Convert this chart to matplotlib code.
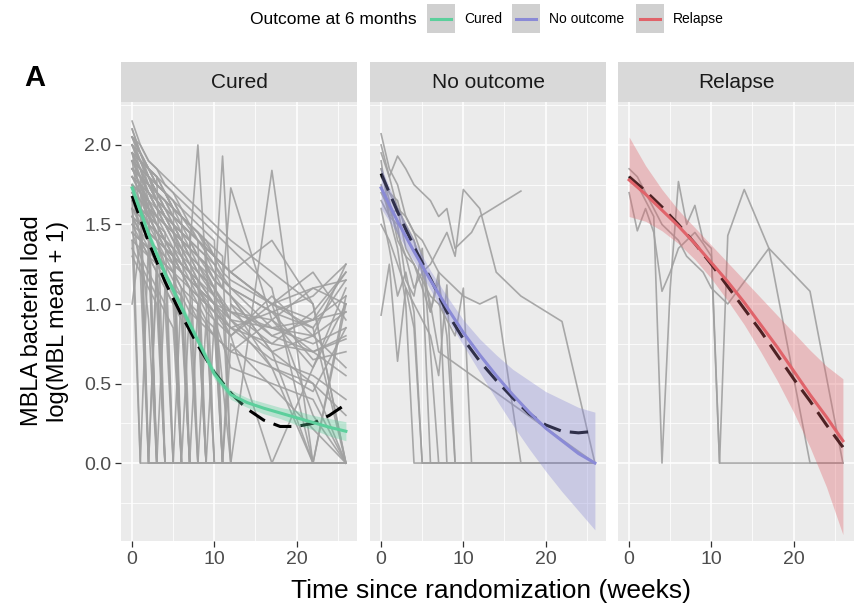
import numpy as np
import matplotlib
matplotlib.use('Agg')
import matplotlib.pyplot as plt
from matplotlib.patches import Rectangle
from matplotlib.lines import Line2D

plt.rcParams['font.family'] = ['Liberation Sans', 'DejaVu Sans']

outcomes = ['Cured', 'No outcome', 'Relapse']
line_colors = ['#5CCF9C', '#8A8AD6', '#E0636A']

# Individual patient trajectories (weeks, log load).
cured_weeks = [
    [0, 1, 2, 3, 4, 5, 6, 7, 8, 10, 12, 17, 22, 26],
    [0, 1, 2, 3, 4, 5, 6, 8, 10, 12, 17, 22, 26],
    [0, 1, 2, 3, 26],
    [0, 1, 2, 3, 4, 26],
    [0, 1, 2, 3, 4, 5, 6, 7, 26],
    [0, 1, 2, 3, 4, 5, 6, 7, 8, 9, 10, 26],
    [0, 1, 2, 3, 4, 26],
    [0, 1, 2, 3, 4, 5, 6, 7, 8, 9, 26],
    [0, 1, 2, 3, 4, 5, 6, 7, 8, 10, 12, 17, 22, 26],
    [0, 1, 2, 26],
    [0, 1, 2, 3, 4, 5, 6, 7, 8, 9, 10, 11, 12, 17, 22, 26],
    [0, 1, 2, 3, 4, 5, 6, 26],
    [0, 1, 2, 3, 4, 5, 6, 7, 8, 9, 10, 11, 12, 17, 22, 26],
    [0, 1, 2, 3, 4, 5, 26],
    [0, 1, 2, 3, 4, 5, 6, 7, 8, 10, 12, 17, 22, 26],
    [0, 1, 26],
    [0, 1, 2, 3, 4, 5, 6, 7, 8, 10, 12, 17, 22, 26],
    [0, 1, 2, 3, 4, 5, 6, 7, 8, 9, 10, 11, 26],
    [0, 1, 2, 3, 4, 26],
    [0, 1, 2, 3, 4, 5, 6, 7, 8, 10, 12, 17, 22, 26],
    [0, 1, 2, 3, 26],
    [0, 1, 2, 3, 4, 5, 6, 7, 8, 9, 26],
    [0, 1, 2, 3, 4, 5, 6, 7, 8, 10, 12, 17, 22, 26],
    [0, 1, 2, 3, 4, 5, 6, 7, 26],
    [0, 1, 2, 3, 4, 5, 6, 7, 8, 10, 12, 17, 22, 26],
    [0, 1, 2, 3, 4, 5, 6, 7, 8, 10, 12, 17, 22, 26],
    [0, 1, 2, 3, 4, 5, 6, 7, 26],
    [0, 1, 2, 3, 4, 5, 6, 7, 8, 10, 12, 17, 22, 26],
    [0, 1, 2, 3, 26],
    [0, 1, 2, 3, 4, 5, 6, 7, 8, 10, 12, 17, 22, 26],
    [0, 1, 2, 3, 4, 5, 6, 7, 8, 9, 10, 11, 12, 17, 22, 26],
    [0, 1, 2, 3, 4, 5, 6, 7, 8, 9, 10, 26],
    [0, 1, 2, 3, 4, 5, 6, 7, 8, 9, 10, 11, 12, 26],
    [0, 1, 2, 3, 4, 5, 6, 7, 8, 9, 10, 11, 12, 17, 22, 26],
    [0, 1, 2, 3, 4, 5, 6, 26],
    [0, 1, 2, 3, 4, 5, 6, 7, 8, 9, 10, 11, 12, 17, 22, 26],
    [0, 1, 2, 3, 4, 5, 6, 7, 8, 10, 12, 17, 22, 26],
    [0, 1, 2, 3, 4, 5, 6, 7, 8, 10, 12, 17, 22, 26],
    [0, 1, 2, 3, 4, 5, 6, 7, 8, 9, 10, 11, 12, 17, 22, 26],
    [0, 1, 2, 3, 4, 26],
    [0, 1, 2, 3, 4, 5, 6, 7, 8, 26],
    [0, 1, 2, 3, 4, 5, 6, 7, 8, 9, 10, 11, 12, 17, 22, 26],
    [0, 1, 2, 3, 4, 5, 6, 7, 8, 9, 10, 11, 12, 17, 22, 26],
    [0, 1, 2, 3, 4, 5, 6, 7, 8, 10, 12, 17, 22, 26],
    [0, 1, 2, 3, 4, 5, 6, 7, 8, 9, 10, 11, 12, 26],
    [0, 1, 2, 3, 4, 5, 6, 7, 8, 9, 10, 26],
    [0, 1, 2, 3, 4, 5, 6, 7, 8, 9, 10, 11, 12, 26],
    [0, 1, 2, 3, 4, 5, 26],
    [0, 1, 2, 3, 4, 5, 6, 26],
    [0, 1, 2, 3, 4, 5, 6, 7, 26],
    [0, 1, 2, 3, 4, 5, 6, 7, 8, 26],
    [0, 1, 2, 3, 4, 5, 6, 7, 8, 9, 26],
    [0, 1, 2, 3, 4, 5, 6, 7, 8, 9, 10, 11, 26],
    [0, 1, 2, 3, 26],
    [0, 1, 2, 26],
    [0, 1, 2, 3, 4, 5, 6, 7, 8, 9, 10, 11, 12, 17, 22, 26],
    [0, 1, 2, 3, 4, 5, 6, 7, 8, 9, 10, 11, 12, 17, 22, 26],
    [0, 1, 2, 3, 4, 5, 6, 7, 8, 10, 12, 17, 22, 26],
    [0, 1, 2, 3, 4, 5, 6, 7, 8, 9, 10, 11, 12, 17, 22, 26],
    [0, 1, 2, 3, 4, 5, 6, 7, 26],
    [0, 1, 2, 3, 4, 5, 6, 7, 8, 9, 26],
    [0, 1, 2, 3, 4, 5, 6, 7, 8, 9, 10, 11, 12, 17, 22, 26],
    [0, 1, 2, 3, 4, 5, 6, 7, 8, 10, 12, 17, 22, 26],
    [0, 1, 2, 3, 4, 5, 6, 7, 8, 9, 10, 11, 12, 17, 22, 26],
    [0, 1, 2, 3, 4, 5, 6, 26],
    [0, 1, 2, 3, 4, 5, 6, 7, 8, 9, 10, 11, 26],
    [0, 1, 2, 3, 4, 5, 6, 7, 8, 10, 12, 17, 22, 26],
    [0, 1, 2, 3, 4, 5, 6, 7, 8, 9, 10, 11, 12, 17, 22, 26],
    [0, 1, 2, 3, 4, 26],
    [0, 1, 2, 3, 4, 5, 6, 7, 8, 9, 10, 11, 12, 17, 22, 26],
]
cured_loads = [
    [2.15, 2.00, 1.90, 1.85, 1.75, 1.70, 1.60, 1.50, 1.45, 1.30, 1.20, 1.00, 0.90, 0.95],
    [2.05, 1.95, 1.85, 1.80, 1.70, 1.60, 1.55, 1.40, 1.25, 1.10, 0.95, 1.05, 1.25],
    [1.95, 1.70, 1.50, 0.00, 0.00],
    [1.90, 1.60, 0.00, 1.30, 0.00, 0.00],
    [1.85, 1.80, 1.60, 1.40, 1.20, 0.00, 1.10, 0.00, 0.00],
    [1.80, 1.70, 1.65, 1.50, 1.40, 1.30, 1.20, 1.10, 0.00, 0.90, 0.00, 0.00],
    [1.75, 1.40, 1.30, 1.20, 0.00, 0.00],
    [1.70, 1.75, 1.55, 1.45, 1.35, 1.25, 0.00, 1.00, 0.90, 0.00, 0.00],
    [1.65, 1.50, 1.40, 1.35, 1.30, 1.20, 1.10, 1.00, 0.95, 0.80, 0.70, 0.60, 0.50, 0.30],
    [1.60, 1.20, 0.00, 0.00],
    [2.00, 1.85, 1.75, 1.65, 1.55, 1.45, 1.40, 1.35, 2.00, 1.20, 1.10, 1.00, 0.90, 0.70, 0.50, 0.00],
    [1.55, 1.45, 1.35, 0.00, 1.10, 1.00, 0.00, 0.00],
    [1.95, 1.80, 1.70, 1.60, 1.50, 1.45, 1.30, 1.25, 1.20, 1.15, 1.05, 1.93, 1.00, 0.80, 0.90, 1.20],
    [1.45, 1.30, 1.20, 1.10, 1.00, 0.00, 0.00],
    [1.85, 1.75, 1.60, 1.50, 1.45, 1.35, 1.25, 1.20, 1.10, 1.00, 0.00, 1.84, 0.00, 0.00],
    [1.40, 0.00, 0.00],
    [2.05, 1.90, 1.80, 1.70, 1.60, 1.50, 1.40, 1.30, 1.25, 1.10, 0.95, 0.85, 0.80, 1.25],
    [1.75, 1.65, 1.55, 1.45, 1.35, 1.30, 1.20, 1.10, 1.00, 0.00, 0.90, 0.00, 0.00],
    [1.30, 1.20, 1.10, 1.00, 0.00, 0.00],
    [1.90, 1.85, 1.70, 1.60, 1.50, 1.40, 1.35, 1.25, 1.15, 1.00, 0.90, 0.60, 0.00, 0.00],
    [1.00, 1.40, 0.90, 0.00, 0.00],
    [1.80, 1.70, 1.55, 1.50, 1.40, 1.30, 0.00, 0.00, 1.00, 0.00, 0.00],
    [2.00, 1.90, 1.75, 1.65, 1.55, 1.50, 1.40, 1.30, 1.20, 1.05, 0.90, 0.85, 0.75, 0.85],
    [1.60, 1.55, 1.40, 1.30, 1.20, 1.10, 1.00, 0.00, 0.00],
    [1.70, 1.60, 1.50, 1.40, 1.25, 1.15, 1.05, 0.95, 0.90, 0.80, 0.70, 0.90, 0.70, 0.80],
    [1.95, 1.85, 1.65, 1.55, 1.50, 1.40, 1.30, 1.20, 1.10, 1.00, 0.80, 0.00, 0.60, 1.00],
    [1.50, 1.40, 1.30, 1.20, 1.10, 1.00, 0.90, 0.00, 0.00],
    [1.85, 1.80, 1.70, 1.60, 1.50, 1.40, 1.30, 1.20, 1.10, 0.90, 0.60, 0.50, 0.40, 0.00],
    [1.65, 0.00, 1.40, 0.00, 0.00],
    [2.00, 1.90, 1.80, 1.65, 1.55, 1.45, 1.35, 1.25, 1.15, 1.00, 0.85, 0.75, 0.70, 0.55],
    [1.90, 1.80, 1.75, 1.65, 1.60, 1.50, 1.45, 1.40, 1.30, 1.25, 1.15, 1.10, 1.73, 0.90, 0.60, 1.10],
    [1.70, 1.60, 1.55, 1.45, 1.40, 1.30, 1.25, 1.15, 1.10, 1.00, 0.00, 0.00],
    [1.80, 1.75, 1.65, 1.55, 1.50, 1.45, 1.35, 1.30, 1.20, 1.15, 1.05, 1.00, 0.00, 0.00],
    [2.10, 1.95, 1.85, 1.75, 1.70, 1.60, 1.55, 1.50, 1.45, 1.40, 1.30, 1.25, 1.20, 1.00, 1.10, 1.15],
    [1.35, 1.25, 1.15, 1.05, 0.95, 0.85, 0.00, 0.00],
    [1.60, 1.50, 1.45, 1.40, 1.35, 1.25, 1.20, 1.10, 1.05, 0.95, 0.90, 0.85, 0.80, 1.05, 0.80, 0.95],
    [1.75, 1.70, 1.60, 1.50, 1.40, 1.35, 1.25, 1.20, 1.10, 0.95, 0.80, 1.00, 0.30, 0.00],
    [1.95, 1.85, 1.75, 1.65, 1.55, 1.50, 1.45, 1.35, 1.30, 1.15, 1.05, 0.70, 0.00, 1.00],
    [1.85, 1.75, 1.70, 1.60, 1.55, 1.45, 1.40, 1.35, 1.25, 1.20, 1.10, 0.00, 1.00, 0.60, 0.45, 0.85],
    [1.55, 1.45, 0.00, 1.20, 0.00, 0.00],
    [1.45, 1.40, 1.35, 1.25, 1.15, 1.05, 0.95, 0.85, 0.00, 0.00],
    [1.90, 1.80, 1.70, 1.65, 1.55, 1.50, 1.40, 1.30, 1.25, 1.15, 1.10, 1.00, 0.95, 0.75, 0.95, 1.20],
    [2.05, 1.95, 1.80, 1.70, 1.65, 1.55, 1.50, 1.40, 1.35, 1.30, 1.20, 1.10, 1.05, 0.80, 0.70, 0.78],
    [1.65, 1.60, 1.50, 1.45, 1.35, 1.30, 1.20, 1.15, 1.05, 0.95, 0.85, 0.65, 0.55, 0.40],
    [1.50, 1.45, 1.40, 1.30, 1.25, 1.20, 1.10, 1.05, 1.00, 0.90, 0.85, 0.00, 0.75, 0.00],
    [1.90, 1.85, 1.80, 1.70, 1.60, 1.55, 1.50, 1.45, 1.40, 1.35, 0.00, 0.00],
    [2.00, 1.95, 1.85, 1.80, 1.70, 1.65, 1.55, 1.50, 1.45, 1.40, 1.35, 1.30, 0.00, 0.00],
    [1.75, 1.70, 1.60, 1.55, 1.45, 0.00, 0.00],
    [1.95, 1.90, 1.80, 1.70, 1.65, 1.60, 0.00, 0.00],
    [2.10, 1.95, 1.85, 1.75, 1.70, 1.65, 1.55, 0.00, 0.00],
    [1.85, 1.80, 1.75, 1.70, 1.60, 1.55, 1.50, 1.45, 0.00, 0.00],
    [2.00, 1.90, 1.80, 1.75, 1.70, 1.60, 1.55, 1.50, 1.40, 0.00, 0.00],
    [1.95, 1.90, 1.85, 1.75, 1.70, 1.65, 1.60, 1.55, 1.50, 1.45, 1.40, 0.00, 0.00],
    [1.80, 1.75, 1.65, 0.00, 0.00],
    [1.90, 1.80, 0.00, 0.00],
    [1.70, 1.65, 1.60, 1.55, 1.50, 1.45, 1.40, 1.35, 1.30, 1.25, 1.20, 1.15, 1.10, 0.85, 0.90, 1.05],
    [1.80, 1.75, 1.70, 1.65, 1.60, 1.55, 1.45, 1.40, 1.35, 1.30, 1.25, 1.15, 1.10, 0.95, 0.85, 0.00],
    [1.55, 1.50, 1.45, 1.40, 1.30, 1.25, 1.20, 1.15, 1.10, 1.00, 0.95, 0.90, 1.10, 1.00],
    [2.00, 1.90, 1.85, 1.80, 1.75, 1.70, 1.65, 1.60, 1.55, 1.50, 1.45, 1.40, 1.35, 1.10, 0.00, 1.05],
    [1.40, 1.35, 1.30, 1.25, 1.20, 1.10, 1.05, 0.00, 0.00],
    [1.60, 1.55, 1.50, 1.45, 1.40, 1.35, 1.30, 1.20, 1.15, 0.00, 0.00],
    [1.85, 1.80, 1.75, 1.70, 1.65, 1.60, 1.50, 1.45, 1.40, 1.35, 1.30, 1.20, 1.15, 1.00, 1.20, 0.90],
    [2.05, 2.00, 1.90, 1.85, 1.80, 1.75, 1.70, 1.65, 1.60, 1.50, 1.40, 1.20, 1.00, 0.00],
    [1.75, 1.70, 1.65, 1.60, 1.55, 1.50, 1.45, 1.40, 1.30, 1.25, 1.15, 1.10, 1.05, 0.70, 0.80, 0.60],
    [1.65, 1.60, 1.55, 1.50, 1.40, 1.35, 0.00, 0.00],
    [1.55, 1.50, 1.45, 1.40, 1.35, 1.30, 1.25, 1.20, 1.15, 1.10, 1.05, 0.00, 0.00],
    [1.90, 1.85, 1.80, 1.70, 1.65, 1.55, 1.50, 1.45, 1.40, 1.30, 1.20, 1.00, 0.85, 1.15],
    [1.45, 1.40, 1.35, 1.30, 1.25, 1.20, 1.15, 1.10, 1.05, 1.00, 0.95, 0.90, 0.85, 0.95, 0.65, 0.70],
    [2.05, 1.95, 1.85, 1.80, 0.00, 0.00],
    [1.95, 1.90, 1.80, 1.75, 1.70, 1.60, 1.55, 1.50, 1.45, 1.35, 1.30, 1.25, 1.20, 1.40, 1.00, 0.00],
]

noout_weeks = [
    [0, 1, 2, 3, 4, 5, 6, 7, 8, 26],
    [0, 1, 2, 3, 4, 5, 6, 7, 8, 9, 10, 11, 12, 17],
    [0, 1, 2, 3, 4, 5, 6, 7, 8, 9, 10, 12, 14, 17, 22, 26],
    [0, 1, 2, 3, 4, 5, 26],
    [0, 1, 2, 3, 4, 5, 6, 7, 8, 9, 26],
    [0, 1, 2, 3, 4, 5, 6, 7, 26],
    [0, 1, 2, 3, 4, 26],
    [0, 1, 2, 3, 4, 5, 6, 7, 8, 9, 10, 12, 14, 17, 26],
    [0, 1, 2, 3, 4, 5, 6, 7, 8, 9, 26],
    [0, 1, 2, 3, 4, 5, 26],
    [0, 1, 2, 3, 4, 5, 6, 7, 26],
    [0, 1, 2, 3, 4, 5, 6, 7, 8, 9, 10, 11, 26],
    [0, 1, 2, 3, 4, 5, 6, 26],
]
noout_loads = [
    [2.07, 1.85, 1.75, 1.55, 1.45, 1.30, 0.95, 1.20, 0.00, 0.00],
    [1.95, 1.80, 1.93, 1.85, 1.75, 1.70, 1.65, 1.55, 1.60, 1.35, 1.40, 1.45, 1.55, 1.71],
    [1.80, 1.70, 1.65, 1.45, 1.40, 1.20, 1.25, 1.35, 1.45, 1.30, 1.72, 1.60, 1.20, 1.05, 0.89, 0.00],
    [1.60, 1.35, 1.05, 1.20, 0.95, 0.00, 0.00],
    [0.93, 1.25, 0.64, 1.10, 1.00, 0.90, 0.80, 0.55, 1.12, 0.00, 0.00],
    [1.75, 1.55, 1.50, 1.15, 1.05, 1.35, 0.70, 0.00, 0.00],
    [1.90, 1.55, 1.35, 1.00, 0.00, 0.00],
    [1.85, 1.70, 1.60, 1.55, 1.45, 1.40, 1.30, 1.20, 1.15, 1.10, 1.05, 1.00, 1.05, 0.00, 0.00],
    [1.70, 1.60, 1.45, 1.30, 1.25, 1.10, 0.95, 1.15, 0.80, 0.00, 0.00],
    [1.50, 1.40, 1.25, 1.10, 0.85, 0.00, 0.00],
    [2.00, 1.80, 1.60, 1.50, 1.40, 1.20, 1.00, 0.70, 0.00],
    [1.65, 1.55, 1.60, 1.35, 1.25, 1.15, 1.05, 1.00, 0.90, 0.80, 1.10, 0.00, 0.00],
    [1.85, 1.65, 1.40, 1.30, 1.10, 1.20, 0.00, 0.00],
]

relapse_weeks = [
    [0, 1, 2, 3, 4, 5, 6, 7, 8, 9, 10, 11, 12, 17, 22, 26],
    [0, 1, 2, 3, 4, 5, 6, 7, 8, 9, 10, 11, 12, 14, 17, 22, 26],
    [0, 1, 2, 3, 4, 5, 6, 7, 8, 9, 10, 11, 12, 17, 22, 26],
]
relapse_loads = [
    [1.80, 1.75, 1.65, 1.55, 0.00, 1.10, 1.77, 1.50, 1.62, 1.40, 1.35, 0.00, 0.00, 0.00, 0.00, 0.00],
    [1.70, 1.46, 1.60, 1.45, 1.08, 1.20, 1.35, 1.40, 1.45, 1.38, 1.30, 0.00, 1.43, 1.72, 1.35, 1.08, 0.00],
    [1.85, 1.80, 1.70, 1.60, 1.50, 1.45, 1.40, 1.30, 1.25, 1.20, 1.10, 1.05, 1.00, 1.35, 0.00, 0.00],
]

# Group fits (solid + ribbon) and overall trend (dashed)
fit_weeks = [0, 2, 4, 6, 8, 10, 12, 14, 16, 18, 20, 22, 24, 26]

cured_fit = [1.73, 1.44, 1.19, 0.98, 0.77, 0.56, 0.43, 0.38, 0.345, 0.315, 0.285, 0.255, 0.225, 0.20]
cured_lo = [1.69, 1.41, 1.16, 0.95, 0.74, 0.53, 0.40, 0.35, 0.31, 0.28, 0.24, 0.21, 0.17, 0.14]
cured_hi = [1.77, 1.47, 1.22, 1.01, 0.80, 0.59, 0.46, 0.41, 0.38, 0.35, 0.33, 0.30, 0.28, 0.26]
cured_trend = [1.68, 1.39, 1.14, 0.93, 0.74, 0.57, 0.44, 0.34, 0.27, 0.23, 0.23, 0.25, 0.30, 0.37]

noout_fit = [1.73, 1.52, 1.33, 1.15, 0.98, 0.82, 0.68, 0.55, 0.43, 0.32, 0.22, 0.14, 0.06, 0.00]
noout_lo = [1.60, 1.44, 1.27, 1.09, 0.91, 0.74, 0.57, 0.40, 0.24, 0.09, -0.05, -0.18, -0.30, -0.42]
noout_hi = [1.86, 1.61, 1.40, 1.21, 1.05, 0.90, 0.78, 0.68, 0.59, 0.52, 0.45, 0.40, 0.35, 0.32]
noout_trend = [1.82, 1.58, 1.36, 1.16, 0.95, 0.78, 0.64, 0.52, 0.41, 0.31, 0.24, 0.20, 0.19, 0.20]

relapse_fit = [1.78, 1.69, 1.59, 1.49, 1.38, 1.26, 1.14, 1.01, 0.87, 0.73, 0.58, 0.43, 0.29, 0.14]
relapse_lo = [1.55, 1.52, 1.46, 1.38, 1.28, 1.16, 1.02, 0.87, 0.70, 0.52, 0.32, 0.10, -0.15, -0.45]
relapse_hi = [2.05, 1.87, 1.72, 1.59, 1.48, 1.37, 1.26, 1.15, 1.04, 0.93, 0.82, 0.71, 0.61, 0.53]
relapse_trend = [1.80, 1.71, 1.61, 1.50, 1.38, 1.25, 1.11, 0.97, 0.83, 0.68, 0.53, 0.39, 0.24, 0.10]

panels = [
    (cured_weeks, cured_loads, cured_fit, cured_lo, cured_hi, cured_trend),
    (noout_weeks, noout_loads, noout_fit, noout_lo, noout_hi, noout_trend),
    (relapse_weeks, relapse_loads, relapse_fit, relapse_lo, relapse_hi, relapse_trend),
]

W, H = 858, 605
fig = plt.figure(figsize=(W / 100, H / 100), dpi=100)


def fx(px):
    return px / W


def fy(py):
    return 1 - py / H


panel_left = [121, 370, 618]
panel_w = 236
panel_top, panel_bot = 102, 541
strip_top = 62

for i, (weeks, loads, fit, lo, hi, trend) in enumerate(panels):
    ax = fig.add_axes([fx(panel_left[i]), fy(panel_bot), panel_w / W, (panel_bot - panel_top) / H])
    ax.set_facecolor('#EBEBEB')
    for s in ax.spines.values():
        s.set_visible(False)
    ax.set_xlim(-1.35, 27.35)
    ax.set_ylim(-0.49, 2.27)
    ax.set_xticks([0, 10, 20])
    ax.set_xticks([5, 15, 25], minor=True)
    ax.set_yticks([0, 0.5, 1.0, 1.5, 2.0])
    ax.set_yticks([-0.25, 0.25, 0.75, 1.25, 1.75, 2.25], minor=True)
    ax.grid(which='major', color='white', lw=1.1)
    ax.grid(which='minor', color='white', lw=0.55)
    ax.set_axisbelow(True)
    ax.tick_params(which='major', length=4, width=0.9, color='#333333',
                   labelsize=14, labelcolor='#4D4D4D', pad=3)
    ax.tick_params(which='minor', length=0)
    if i == 0:
        ax.set_yticklabels(['0.0', '0.5', '1.0', '1.5', '2.0'])
    else:
        ax.tick_params(axis='y', which='major', length=0, labelleft=False)

    for w, v in zip(weeks, loads):
        ax.plot(w, v, color='#A0A0A0', lw=1.2, alpha=0.9, zorder=2)

    ax.plot(fit_weeks, trend, color='black', lw=2.2, dashes=(6, 3), zorder=3)
    ax.fill_between(fit_weeks, lo, hi, color=line_colors[i], alpha=0.35, lw=0, zorder=4)
    ax.plot(fit_weeks, fit, color=line_colors[i], lw=2.2, zorder=5)

    sax = fig.add_axes([fx(panel_left[i]), fy(panel_top), panel_w / W, (panel_top - strip_top) / H])
    sax.set_facecolor('#D9D9D9')
    sax.set_xticks([])
    sax.set_yticks([])
    for s in sax.spines.values():
        s.set_visible(False)
    sax.text(0.5, 0.5, outcomes[i], ha='center', va='center', fontsize=15, color='#1A1A1A',
             transform=sax.transAxes)

# axis titles
fig.text(fx(45), fy(321), 'MBLA bacterial load\nlog(MBL mean + 1)', rotation=90,
         ha='center', va='center', multialignment='center', fontsize=17, color='black')
fig.text(fx(491), fy(591), 'Time since randomization (weeks)', ha='center', va='center',
         fontsize=19, color='black')
fig.text(fx(35), fy(78), 'A', ha='center', va='center', fontsize=21, fontweight='bold')

# legend on top
fig.text(fx(250), fy(19), 'Outcome at 6 months', ha='left', va='center', fontsize=12.5)
key_x = [427, 512, 636]
for i, name in enumerate(outcomes):
    fig.add_artist(Rectangle((fx(key_x[i]), fy(33)), 28 / W, 29 / H, transform=fig.transFigure,
                             facecolor='#D0D0D0', edgecolor='none'))
    fig.add_artist(Line2D([fx(key_x[i] + 4), fx(key_x[i] + 24)], [fy(18.5), fy(18.5)],
                          transform=fig.transFigure, color=line_colors[i], lw=2.2))
    fig.text(fx(key_x[i] + 37), fy(19), name, ha='left', va='center', fontsize=10)

fig.savefig('out.png', dpi=100)
